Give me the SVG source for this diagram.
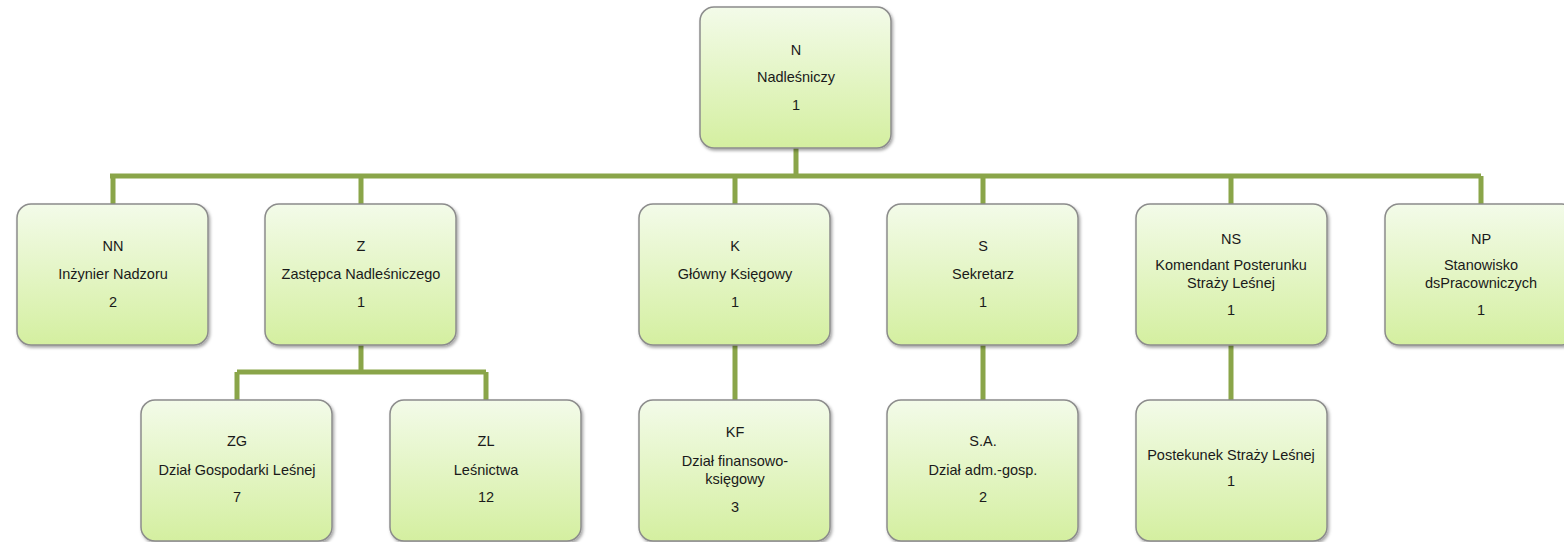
<svg xmlns="http://www.w3.org/2000/svg" width="1564" height="542" viewBox="0 0 1564 542">
<defs>
<linearGradient id="g" x1="0" y1="0" x2="0" y2="1">
<stop offset="0" stop-color="#f3fbe9"/>
<stop offset="1" stop-color="#d4efa0"/>
</linearGradient>
<filter id="sh" x="-10%" y="-10%" width="125%" height="125%">
<feDropShadow dx="1.5" dy="2" stdDeviation="1.5" flood-color="#000" flood-opacity="0.35"/>
</filter>
</defs>
<style>
.box{fill:url(#g);stroke:#8c8c8c;stroke-width:1.5;filter:url(#sh)}
.t{font-family:"Liberation Sans",Arial,sans-serif;font-size:14.5px;fill:#1a1a1a;text-anchor:middle}
.c{fill:none;stroke:#8aa549;stroke-width:5}
</style>
<rect width="1564" height="542" fill="#fff"/>
<g id="connectors">
<path class="c" d="M796 148V176M110 176H1481M113 176V204M361 176V204M735 176V204M983 176V204M1231 176V204M1481 176V204"/>
<path class="c" d="M361 345V372M237 372H486M237 372V400M486 372V400"/>
<path class="c" d="M735 345V400M983 345V400M1231 345V400"/>
</g>
<g id="N"><rect class="box" x="700" y="7" width="191" height="141" rx="14"/>
<text class="t" x="796" y="55">N</text><text class="t" x="796" y="82">Nadleśniczy</text><text class="t" x="796" y="110">1</text></g>
<g id="NN"><rect class="box" x="17" y="204" width="191" height="141" rx="14"/>
<text class="t" x="113" y="251">NN</text><text class="t" x="113" y="279">Inżynier Nadzoru</text><text class="t" x="113" y="307">2</text></g>
<g id="Z"><rect class="box" x="265" y="204" width="191" height="141" rx="14"/>
<text class="t" x="361" y="251">Z</text><text class="t" x="361" y="279">Zastępca Nadleśniczego</text><text class="t" x="361" y="307">1</text></g>
<g id="K"><rect class="box" x="639" y="204" width="191" height="141" rx="14"/>
<text class="t" x="735" y="251">K</text><text class="t" x="735" y="279">Główny Księgowy</text><text class="t" x="735" y="307">1</text></g>
<g id="S"><rect class="box" x="887" y="204" width="191" height="141" rx="14"/>
<text class="t" x="983" y="251">S</text><text class="t" x="983" y="279">Sekretarz</text><text class="t" x="983" y="307">1</text></g>
<g id="NS"><rect class="box" x="1136" y="204" width="191" height="141" rx="14"/>
<text class="t" x="1231" y="244">NS</text><text class="t" x="1231" y="270">Komendant Posterunku</text><text class="t" x="1231" y="288">Straży Leśnej</text><text class="t" x="1231" y="315">1</text></g>
<g id="NP"><rect class="box" x="1385" y="204" width="191" height="141" rx="14"/>
<text class="t" x="1481" y="244">NP</text><text class="t" x="1481" y="270">Stanowisko</text><text class="t" x="1481" y="288">dsPracowniczych</text><text class="t" x="1481" y="315">1</text></g>
<g id="ZG"><rect class="box" x="141" y="400" width="191" height="141" rx="14"/>
<text class="t" x="237" y="446">ZG</text><text class="t" x="237" y="475">Dział Gospodarki Leśnej</text><text class="t" x="237" y="502">7</text></g>
<g id="ZL"><rect class="box" x="390" y="400" width="191" height="141" rx="14"/>
<text class="t" x="486" y="446">ZL</text><text class="t" x="486" y="475">Leśnictwa</text><text class="t" x="486" y="502">12</text></g>
<g id="KF"><rect class="box" x="639" y="400" width="191" height="141" rx="14"/>
<text class="t" x="735" y="437">KF</text><text class="t" x="735" y="466">Dział finansowo-</text><text class="t" x="735" y="484">księgowy</text><text class="t" x="735" y="512">3</text></g>
<g id="SA"><rect class="box" x="887" y="400" width="191" height="141" rx="14"/>
<text class="t" x="983" y="446">S.A.</text><text class="t" x="983" y="475">Dział adm.-gosp.</text><text class="t" x="983" y="502">2</text></g>
<g id="PS"><rect class="box" x="1136" y="400" width="191" height="141" rx="14"/>
<text class="t" x="1231" y="460">Postekunek Straży Leśnej</text><text class="t" x="1231" y="486">1</text></g>
</svg>
